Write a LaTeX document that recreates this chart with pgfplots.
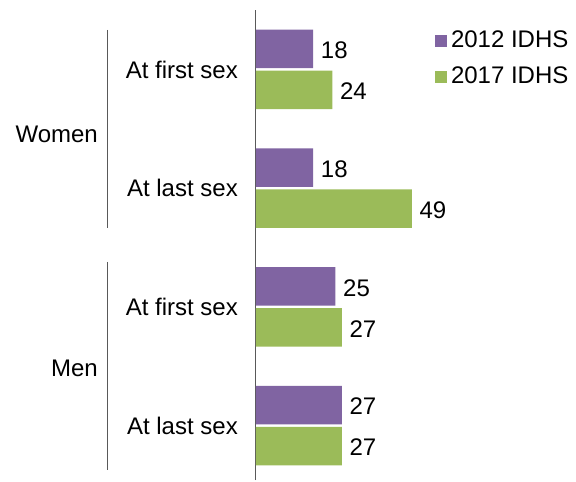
\documentclass[border=0pt]{standalone}
\usepackage{fontspec}
\setmainfont{Liberation Sans}
\usepackage{pgfplots}
\pgfplotsset{compat=1.18}
\definecolor{cp}{HTML}{8064A2}
\definecolor{cg}{HTML}{9BBB59}
\definecolor{axgray}{HTML}{595959}
\begin{document}
\fontsize{24}{28.8}\selectfont
\begin{tikzpicture}
\begin{axis}[
  scale only axis, width=318pt, height=470pt,
  xmin=0, xmax=100, ymin=-0.459, ymax=3.501,
  axis x line=none, axis y line*=left,
  y axis line style={axgray, line width=1pt},
  ytick={0,1,2,3},
  yticklabels={At last sex,At first sex,At last sex,At first sex},
  major tick length=0pt,
  yticklabel style={inner sep=0pt, anchor=east, xshift=-18pt},
  clip=false,
  point meta=x,
  /pgf/number format/assume math mode=true,
  nodes near coords,
  every node near coord/.append style={anchor=west, inner sep=0pt, xshift=7.5pt, yshift=-1.5pt, black},
  legend style={at={(rel axis cs:0.553,0.961)}, anchor=north west, draw=none, fill=none,
    row sep=16pt, nodes={inner sep=0pt},
    /tikz/every odd column/.append style={column sep=4pt}},
  legend cell align=left,
]
\addplot[xbar, bar width=38.5pt, bar shift=0pt, fill=cp, draw=none,
  legend image code/.code={\fill[cp] (0pt,-6pt) rectangle (12pt,6pt);}]
  coordinates {(18,3.1727) (18,2.1727) (25,1.1727) (27,0.1727)};
\addplot[xbar, bar width=38.5pt, bar shift=0pt, fill=cg, draw=none,
  legend image code/.code={\fill[cg] (0pt,-6pt) rectangle (12pt,6pt);}]
  coordinates {(24,2.8273) (49,1.8273) (27,0.8273) (27,-0.1727)};
\legend{2012 IDHS, 2017 IDHS}
\node[anchor=east, inner sep=0pt, xshift=-158pt] at (axis cs:0,2.452) {Women};
\node[anchor=east, inner sep=0pt, xshift=-158pt] at (axis cs:0,0.485) {Men};
\draw[axgray, line width=1pt] ([xshift=-148pt]axis cs:0,3.333) -- ([xshift=-148pt]axis cs:0,1.664);
\draw[axgray, line width=1pt] ([xshift=-148pt]axis cs:0,1.378) -- ([xshift=-148pt]axis cs:0,-0.375);
\path ([xshift=-256pt,yshift=-1pt]rel axis cs:0,0) rectangle ([xshift=2pt,yshift=10pt]rel axis cs:1,1);
\end{axis}
\end{tikzpicture}
\end{document}
